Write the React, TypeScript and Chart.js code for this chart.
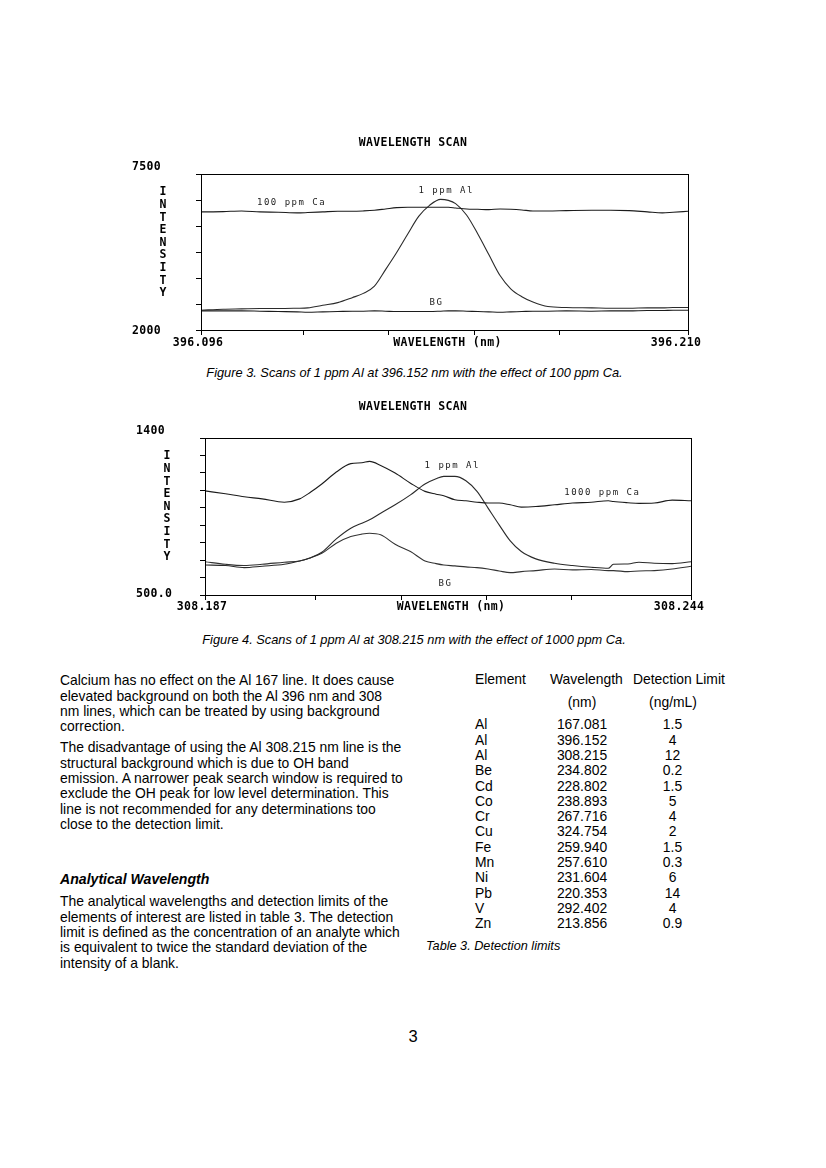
import React, { useEffect, useRef } from 'react';
import { Chart, registerables } from 'chart.js';

Chart.register(...registerables);

const MONO = '"DejaVu Sans Mono", "Liberation Mono", monospace';
const SANS = '"Liberation Sans", Arial, Helvetica, sans-serif';

// ---------- Figure 3 data (Al 396.152 nm, 100 ppm Ca) ----------
const wl396 = [396.0960, 396.1012, 396.1055, 396.1098, 396.1141, 396.1185, 396.1210, 396.1245, 396.1280, 396.1314, 396.1340, 396.1366, 396.1392, 396.1418, 396.1444, 396.1470, 396.1495, 396.1521, 396.1539, 396.1556, 396.1582, 396.1608, 396.1634, 396.1660, 396.1685, 396.1711, 396.1737, 396.1772, 396.1815, 396.1875, 396.1919, 396.1962, 396.2005, 396.2040, 396.2065, 396.2100];
const al396 = [2698, 2733, 2744, 2756, 2756, 2767, 2779, 2872, 2965, 3140, 3291, 3547, 4128, 4733, 5384, 6012, 6395, 6605, 6570, 6454, 6047, 5384, 4651, 3919, 3453, 3174, 2988, 2826, 2791, 2779, 2767, 2767, 2779, 2779, 2791, 2791];
const ca396 = [6163, 6174, 6198, 6163, 6151, 6128, 6140, 6163, 6186, 6186, 6198, 6221, 6267, 6314, 6326, 6326, 6326, 6326, 6326, 6302, 6267, 6256, 6244, 6267, 6256, 6233, 6198, 6198, 6209, 6221, 6221, 6209, 6163, 6128, 6151, 6186];
const bg396 = [2674, 2674, 2674, 2663, 2651, 2640, 2628, 2640, 2651, 2663, 2663, 2674, 2663, 2651, 2651, 2651, 2651, 2663, 2674, 2674, 2663, 2651, 2640, 2628, 2640, 2651, 2663, 2663, 2674, 2663, 2674, 2674, 2686, 2686, 2698, 2698];
const labels396 = ['1 ppm Al', '100 ppm Ca', 'BG'];
const labelX396 = [396.1534, 396.1172, 396.1511];
const labelY396 = [6919, 6477, 2960];
const axis396 = { xMin: 396.096, xMax: 396.210, xStep: 0.02, yMin: 2000, yMax: 7500, yStep: 1000 };
const tickText396 = { xMin: '396.096', xMax: '396.210', yMin: '2000', yMax: '7500' };

// ---------- Figure 4 data (Al 308.215 nm, 1000 ppm Ca) ----------
const wl308 = [308.1870, 308.1894, 308.1916, 308.1937, 308.1963, 308.1981, 308.1994, 308.2007, 308.2024, 308.2041, 308.2054, 308.2063, 308.2076, 308.2093, 308.2111, 308.2128, 308.2141, 308.2150, 308.2163, 308.2176, 308.2189, 308.2202, 308.2215, 308.2228, 308.2241, 308.2258, 308.2280, 308.2301, 308.2323, 308.2343, 308.2349, 308.2366, 308.2379, 308.2397, 308.2418, 308.2440];
const ca308 = [1097, 1080, 1063, 1051, 1032, 1051, 1090, 1136, 1205, 1253, 1258, 1266, 1243, 1199, 1141, 1094, 1078, 1069, 1046, 1040, 1032, 1027, 1027, 1017, 1004, 1007, 1017, 1027, 1032, 1040, 1036, 1029, 1025, 1027, 1044, 1040];
const al308 = [672, 669, 657, 665, 676, 695, 714, 745, 822, 883, 912, 931, 969, 1017, 1074, 1136, 1166, 1180, 1180, 1155, 1094, 998, 902, 810, 749, 707, 682, 669, 659, 653, 676, 678, 688, 682, 680, 691];
const bg308 = [691, 676, 669, 676, 688, 695, 714, 739, 797, 835, 849, 854, 845, 791, 749, 695, 680, 672, 667, 661, 657, 649, 638, 628, 634, 640, 649, 644, 646, 640, 640, 634, 638, 640, 649, 665];
const labels308 = ['1 ppm Al', '1000 ppm Ca', 'BG'];
const labelX308 = [308.2160, 308.2336, 308.2152];
const labelY308 = [1241, 1084, 567];
const axis308 = { xMin: 308.187, xMax: 308.244, xStep: 0.01, yMin: 500, yMax: 1400, yStep: 100 };
const tickText308 = { xMin: '308.187', xMax: '308.244', yMin: '500.0', yMax: '1400' };

// ---------- Table 3 ----------
const tableElements = ['Al', 'Al', 'Al', 'Be', 'Cd', 'Co', 'Cr', 'Cu', 'Fe', 'Mn', 'Ni', 'Pb', 'V', 'Zn'];
const tableWavelengths = ['167.081', '396.152', '308.215', '234.802', '228.802', '238.893', '267.716', '324.754', '259.940', '257.610', '231.604', '220.353', '292.402', '213.856'];
const tableLimits = ['1.5', '4', '12', '0.2', '1.5', '5', '4', '2', '1.5', '0.3', '6', '14', '4', '0.9'];

const para1 = [
  'Calcium has no effect on the Al 167 line. It does cause',
  'elevated background on both the Al 396 nm and 308',
  'nm lines, which can be treated by using background',
  'correction.',
];
const para2 = [
  'The disadvantage of using the Al 308.215 nm line is the',
  'structural background which is due to OH band',
  'emission. A narrower peak search window is required to',
  'exclude the OH peak for low level determination. This',
  'line is not recommended for any determinations too',
  'close to the detection limit.',
];
const para3 = [
  'The analytical wavelengths and detection limits of the',
  'elements of interest are listed in table 3. The detection',
  'limit is defined as the concentration of an analyte which',
  'is equivalent to twice the standard deviation of the',
  'intensity of a blank.',
];

type Spec = {
  box: { left: number; top: number; width: number; height: number };
  padding: { left: number; top: number; right: number; bottom: number };
  axis: { xMin: number; xMax: number; xStep: number; yMin: number; yMax: number; yStep: number };
  tickText: { xMin: string; xMax: string; yMin: string; yMax: string };
  wl: number[];
  series: number[][];
  colors: string[];
  labels: string[];
  labelX: number[];
  labelY: number[];
  yMinDy: number;
  xLabelDy: number;
};

const spec396: Spec = {
  box: { left: 110, top: 128, width: 610, height: 232 },
  padding: { left: 86, top: 46, right: 32, bottom: 25 },
  axis: axis396,
  tickText: tickText396,
  wl: wl396,
  series: [ca396, al396, bg396],
  colors: ['#1c1c1c', '#2a2a2a', '#1c1c1c'],
  labels: labels396,
  labelX: labelX396,
  labelY: labelY396,
  yMinDy: 1,
  xLabelDy: 13,
};

const spec308: Spec = {
  box: { left: 110, top: 395, width: 610, height: 230 },
  padding: { left: 90, top: 43, right: 29, bottom: 25 },
  axis: axis308,
  tickText: tickText308,
  wl: wl308,
  series: [ca308, al308, bg308],
  colors: ['#1c1c1c', '#2a2a2a', '#333333'],
  labels: labels308,
  labelX: labelX308,
  labelY: labelY308,
  yMinDy: -1,
  xLabelDy: 12,
};

function ScanChart({ spec }: { spec: Spec }) {
  const ref = useRef<HTMLCanvasElement>(null);
  useEffect(() => {
    const canvas = ref.current;
    if (!canvas) return;
    const overlay = {
      id: 'scanOverlay',
      afterDraw(chart: any) {
        const ctx = chart.ctx as CanvasRenderingContext2D;
        const a = chart.chartArea;
        const xs = chart.scales.x;
        const ys = chart.scales.y;
        ctx.save();
        ctx.strokeStyle = '#000';
        ctx.lineWidth = 1;
        const L = Math.round(a.left) + 0.5;
        const T = Math.round(a.top) + 0.5;
        const R = Math.round(a.right) + 0.5;
        const B = Math.round(a.bottom) + 0.5;
        ctx.strokeRect(L, T, R - L, B - T);

        ctx.fillStyle = '#000';
        ctx.textBaseline = 'middle';
        ctx.font = `bold 11.5px ${MONO}`;
        (ctx as any).letterSpacing = '0.3px';
        // title
        ctx.textAlign = 'center';
        ctx.fillText('WAVELENGTH SCAN', 413 - spec.box.left, a.top - 31);
        // y extreme labels
        ctx.textAlign = 'left';
        ctx.fillText(spec.tickText.yMax, a.left - 69, ys.getPixelForValue(spec.axis.yMax) - 7);
        ctx.fillText(spec.tickText.yMin, a.left - 69, ys.getPixelForValue(spec.axis.yMin) + spec.yMinDy);
        // INTENSITY vertical letters
        ctx.textAlign = 'center';
        const word = 'INTENSITY';
        for (let i = 0; i < word.length; i++) {
          ctx.fillText(word[i], a.left - 38, a.top + 18.5 + i * 12.6);
        }
        // x labels
        const xl = xs.getPixelForValue(spec.axis.xMin);
        const xr = xs.getPixelForValue(spec.axis.xMax);
        ctx.fillText(spec.tickText.xMin, xl - 3, a.bottom + spec.xLabelDy);
        ctx.fillText(spec.tickText.xMax, xr - 12, a.bottom + spec.xLabelDy);
        ctx.fillText('WAVELENGTH (nm)', (a.left + a.right) / 2 + 3, a.bottom + spec.xLabelDy);
        // curve labels
        ctx.font = `9px ${MONO}`;
        (ctx as any).letterSpacing = '1.5px';
        ctx.fillStyle = '#222';
        for (let i = 0; i < spec.labels.length; i++) {
          ctx.fillText(spec.labels[i], xs.getPixelForValue(spec.labelX[i]), ys.getPixelForValue(spec.labelY[i]));
        }
        ctx.restore();
      },
    };
    const chart = new Chart(canvas, {
      type: 'line',
      data: {
        datasets: spec.series.map((vals, si) => ({
          data: spec.wl.map((x, i) => ({ x, y: vals[i] })),
          borderColor: spec.colors[si],
          borderWidth: 1.1,
          pointRadius: 0,
          fill: false,
          cubicInterpolationMode: 'monotone' as const,
        })),
      },
      options: {
        animation: false,
        responsive: false,
        maintainAspectRatio: false,
        devicePixelRatio: 1,
        layout: { padding: spec.padding, autoPadding: false },
        plugins: { legend: { display: false }, tooltip: { enabled: false }, title: { display: false } },
        scales: {
          x: {
            type: 'linear',
            min: spec.axis.xMin,
            max: spec.axis.xMax,
            ticks: { display: false, stepSize: spec.axis.xStep },
            grid: { drawOnChartArea: false, drawTicks: true, tickLength: 5, color: '#000', lineWidth: 1 },
            border: { display: false },
          },
          y: {
            type: 'linear',
            min: spec.axis.yMin,
            max: spec.axis.yMax,
            ticks: { display: false, stepSize: spec.axis.yStep },
            grid: { drawOnChartArea: false, drawTicks: true, tickLength: 5, color: '#000', lineWidth: 1 },
            border: { display: false },
          },
        },
      },
      plugins: [overlay],
    } as any);
    return () => chart.destroy();
  }, [spec]);
  return (
    <canvas
      ref={ref}
      width={spec.box.width}
      height={spec.box.height}
      style={{ position: 'absolute', left: spec.box.left, top: spec.box.top, width: spec.box.width, height: spec.box.height }}
    />
  );
}

const LH = 15.3;
const FS = 13.9;

function Lines({ lines, left, top, style }: { lines: string[]; left: number; top: number; style?: React.CSSProperties }) {
  return (
    <>
      {lines.map((t, i) => (
        <div
          key={i}
          style={{
            position: 'absolute',
            left,
            top: top + i * LH - LH / 2,
            lineHeight: `${LH}px`,
            fontSize: FS,
            whiteSpace: 'nowrap',
            fontFamily: SANS,
            color: '#000',
            ...style,
          }}
        >
          {t}
        </div>
      ))}
    </>
  );
}

function Centered({ text, cx, cy, width, style }: { text: string; cx: number; cy: number; width: number; style?: React.CSSProperties }) {
  return (
    <div
      style={{
        position: 'absolute',
        left: cx - width / 2,
        width,
        top: cy - LH / 2,
        lineHeight: `${LH}px`,
        textAlign: 'center',
        fontFamily: SANS,
        fontSize: FS,
        whiteSpace: 'nowrap',
        color: '#000',
        ...style,
      }}
    >
      {text}
    </div>
  );
}

export default function App() {
  const rowTop = 725;
  return (
    <div style={{ position: 'absolute', left: 0, top: 0, width: 826, height: 1168, background: '#fff', overflow: 'hidden' }}>
      <ScanChart spec={spec396} />
      <Centered
        text="Figure 3. Scans of 1 ppm Al at 396.152 nm with the effect of 100 ppm Ca."
        cx={414.5}
        cy={373}
        width={640}
        style={{ fontSize: 12.8, fontStyle: 'italic' }}
      />
      <ScanChart spec={spec308} />
      <Centered
        text="Figure 4. Scans of 1 ppm Al at 308.215 nm with the effect of 1000 ppm Ca."
        cx={414}
        cy={640}
        width={640}
        style={{ fontSize: 12.8, fontStyle: 'italic' }}
      />

      <Lines lines={para1} left={60} top={681} />
      <Lines lines={para2} left={60} top={748} />
      <Lines lines={['Analytical Wavelength']} left={60} top={880} style={{ fontWeight: 'bold', fontStyle: 'italic', fontSize: 14.1 }} />
      <Lines lines={para3} left={60} top={902} />

      <Lines lines={['Element']} left={475} top={680} />
      <Lines lines={['Wavelength']} left={550} top={680} />
      <Lines lines={['Detection Limit']} left={633} top={680} />
      <Centered text="(nm)" cx={582} cy={703} width={80} />
      <Centered text="(ng/mL)" cx={673} cy={703} width={90} />
      <Lines lines={tableElements} left={475} top={rowTop} />
      {tableWavelengths.map((w, i) => (
        <Centered key={'w' + i} text={w} cx={582} cy={rowTop + i * LH} width={80} />
      ))}
      {tableLimits.map((v, i) => (
        <Centered key={'d' + i} text={v} cx={672.5} cy={rowTop + i * LH} width={60} />
      ))}
      <Lines lines={['Table 3. Detection limits']} left={426} top={947} style={{ fontStyle: 'italic', fontSize: 12.7 }} />

      <Centered text="3" cx={413} cy={1037} width={40} style={{ fontSize: 16.5 }} />
    </div>
  );
}
